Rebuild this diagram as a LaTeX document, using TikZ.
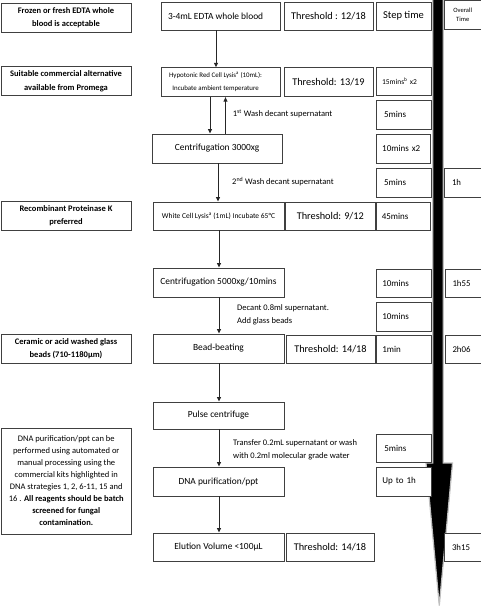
\documentclass[tikz,border=0pt]{standalone}
\usepackage{fontspec}
\setmainfont{Carlito}
\usetikzlibrary{arrows.meta}
\newcommand\bx[7]{\node[box,#6,minimum width={(#4-#2)*1pt},minimum height={(#5-#3)*1pt}] (#1) at ({(#2+#4)/2},{(#3+#5)/2}) {#7};}
\tikzset{
 box/.style={draw=black!75, line width=0.9pt, fill=white, inner sep=0pt, align=center, font=\fontsize{9.4}{11}\selectfont},
 side/.style={font=\fontsize{8.5}{13.5}\selectfont\bfseries},
 sidenote/.style={font=\fontsize{8.5}{12}\selectfont},
 thr/.style={font=\fontsize{10.3}{12}\selectfont},
 steptxt/.style={text width=43pt, align=left, font=\fontsize{9}{11}\selectfont},
 ovtxt/.style={text width=21pt, align=left, font=\fontsize{8.8}{10}\selectfont},
 note/.style={anchor=west, inner sep=0pt, align=left, font=\fontsize{8.5}{13}\selectfont},
 arr/.style={draw=black!85, line width=0.9pt, -{Triangle[length=4.5pt,width=4pt]}},
}
\begin{document}
\begin{tikzpicture}[x=1pt,y=-1pt]
\useasboundingbox (0,0) rectangle (480,606);
% overall time arrow
\path[fill=black, draw=black!25, line width=1.2pt] (432.7,-2) -- (443.3,-2) -- (443.3,463) -- (452.5,463) -- (439.3,605.5) -- (426,463) -- (432.7,463) -- cycle;
% left notes
\bx{l1}{1}{3}{131}{32}{side}{Frozen or fresh EDTA whole\\blood is acceptable}
\bx{l2}{1}{66.7}{131}{95.7}{side}{Suitable commercial alternative\\available from Promega}
\bx{l3}{1}{201.7}{131}{230}{side}{Recombinant Proteinase K\\preferred}
\bx{l4}{1}{334.3}{131}{363.3}{side}{Ceramic or acid washed glass\\beads (710-1180µm)}
\bx{l5}{1}{428}{131.5}{534}{sidenote}{DNA purification/ppt can be\\performed using automated or\\manual processing using the\\commercial kits highlighted in\\DNA strategies 1, 2, 6-11, 15 and\\16 . \textbf{All reagents should be batch}\\\textbf{screened for fungal}\\\textbf{contamination.}}
% centre steps
\bx{c1}{161.5}{2}{280.7}{30}{}{3-4mL EDTA whole blood\hspace*{11pt}}
\bx{c2}{161.5}{67.7}{280.7}{96.7}{font=\fontsize{6.9}{13}\selectfont}{Hypotonic Red Cell Lysis\textsuperscript{a} (10mL):\hspace*{11pt}\\Incubate ambient temperature\hspace*{11pt}}
\bx{c3}{152}{134}{282.3}{163}{}{Centrifugation 3000xg}
\bx{c4}{153}{202}{284}{230}{font=\fontsize{7.5}{9}\selectfont}{White Cell Lysis\textsuperscript{a} (1mL) Incubate 65°C}
\bx{c5}{153}{268}{284}{297}{}{Centrifugation 5000xg/10mins}
\bx{c6}{153}{334}{284}{363}{}{Bead-beating}
\bx{c7}{153}{402}{284}{429}{}{Pulse centrifuge}
\bx{c8}{153}{467}{284}{496}{}{DNA purification/ppt}
\bx{c9}{153}{533}{284}{561}{}{Elution Volume <100µL}
% thresholds
\bx{t1}{284}{2}{373}{30}{thr}{Threshold : 12/18}
\bx{t2}{284}{67.7}{373}{96.7}{thr}{Threshold: 13/19}
\bx{t3}{285.7}{202}{375}{230}{thr}{Threshold: 9/12}
\bx{t4}{286}{335}{375}{363}{thr}{Threshold: 14/18}
\bx{t5}{286}{533}{374}{561}{thr}{Threshold: 14/18}
% step times
\bx{s1}{376}{2}{431}{30}{font=\fontsize{10.5}{12}\selectfont}{Step time}
\bx{s2}{376}{67}{431}{95}{steptxt,font=\fontsize{7.5}{9}\selectfont}{15mins\textsuperscript{b} x2}
\bx{s3}{376}{100}{431}{129}{steptxt}{\hspace*{2pt}5mins}
\bx{s4}{376.7}{134}{430.7}{163}{steptxt}{10mins x2}
\bx{s5}{376}{168}{431}{197}{steptxt}{\hspace*{2pt}5mins}
\bx{s6}{376}{202}{430.7}{230}{steptxt}{45mins}
\bx{s7}{376.7}{269}{431}{297}{steptxt}{10mins}
\bx{s8}{376.7}{302}{431}{331}{steptxt}{10mins}
\bx{s9}{376.7}{335}{431}{363}{steptxt}{1min}
\bx{s10}{376.7}{434}{431}{462}{steptxt}{\hspace*{2pt}5mins}
\bx{s11}{376.7}{467}{431}{496}{steptxt}{Up to 1h}
% overall times
\bx{o1}{444.5}{0.5}{481}{29}{font=\fontsize{6.5}{9}\selectfont}{Overall\\Time}
\bx{o2}{444}{168}{481}{197}{ovtxt}{1h}
\bx{o3}{445}{269}{481}{297}{ovtxt}{1h55}
\bx{o4}{445}{335}{481}{363}{ovtxt}{2h06}
\bx{o5}{444}{533}{481}{561}{ovtxt}{3h15}
% connector notes
\node[note] (w1) at (232.7,114) {1\textsuperscript{st} Wash decant supernatant};
\node[note] (w2) at (232,182) {2\textsuperscript{nd} Wash decant supernatant};
\node[note] (dc) at (237,314.5) {Decant 0.8ml supernatant.\\Add glass beads};
\node[note] (tr) at (233,449.5) {Transfer 0.2mL supernatant or wash\\with 0.2ml molecular grade water};
% connectors
\draw[arr] (c1.south -| 216,0) -- (c2.north -| 216,0);
\draw[arr] (c2.south -| 210,0) -- (c3.north -| 210,0);
\draw[arr] (c3.north -| 225.5,0) -- (c2.south -| 225.5,0);
\draw[arr] (c3.south -| 218,0) -- (c4.north -| 218,0);
\draw[arr] (c4.south -| 219,0) -- (c5.north -| 219,0);
\draw[arr] (c5.south -| 219,0) -- (c6.north -| 219,0);
\draw[arr] (c6.south -| 219,0) -- (c7.north -| 219,0);
\draw[arr] (c7.south -| 219,0) -- (c8.north -| 219,0);
\draw[arr] (c8.south -| 219,0) -- (c9.north -| 219,0);
\end{tikzpicture}
\end{document}
